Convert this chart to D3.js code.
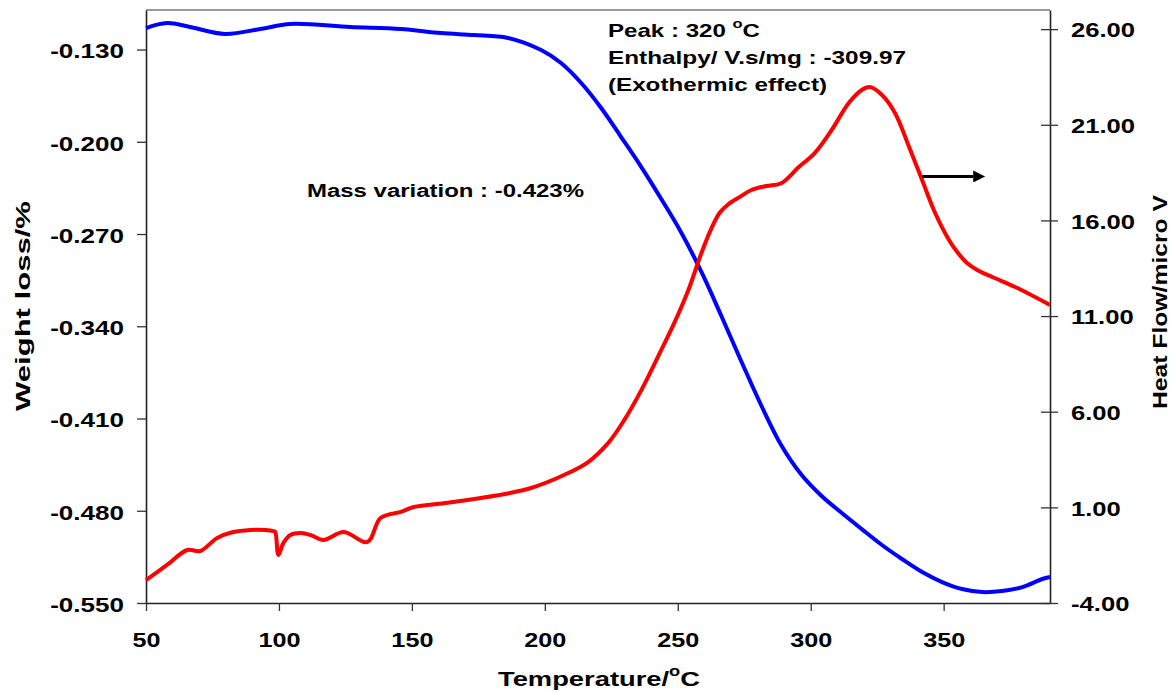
<!DOCTYPE html>
<html>
<head>
<meta charset="utf-8">
<script src="https://cdn.jsdelivr.net/npm/d3@7"></script>
<style>
body{margin:0;background:#fff;}
svg text{font-family:"Liberation Sans",Arial,sans-serif;font-weight:bold;fill:#000;}
</style>
</head>
<body>
<svg id="chart" width="1175" height="692"></svg>
<script>
// TG curve (left axis)
var tempW = [50,57.9,66.6,79.8,93,104.3,126.9,145.8,160.9,173.3,186.1,198.6,206.1,213.7,221.2,228.7,236.3,243.8,251.4,258.9,266.4,274,281.5,289.1,296.6,304.1,311.7,319.2,326.8,334.3,341.9,349.4,356.9,364.5,372,379.6,387.1,390];
var weight = [-0.1137,-0.1099,-0.1129,-0.1182,-0.1144,-0.1106,-0.1129,-0.1144,-0.1175,-0.1190,-0.1212,-0.1304,-0.1402,-0.1554,-0.1744,-0.1964,-0.2192,-0.2434,-0.2692,-0.2988,-0.3322,-0.3671,-0.4005,-0.4309,-0.4529,-0.4688,-0.4817,-0.4939,-0.5060,-0.5166,-0.5265,-0.5341,-0.5394,-0.5417,-0.5409,-0.5379,-0.5318,-0.5303];

// DTA curve (right axis)
var tempH = [50,58,65.5,70.4,76.8,82.8,89.2,94.9,97.9,98.6,99.8,101.7,104.3,108.1,112,116.7,124.3,133.3,138.2,145.8,150.7,163.5,175.9,185,194.8,207.2,216.3,223.8,229.9,236.3,243.8,248.7,254,258.9,262.7,265.7,268.7,273.2,277.7,283.4,289.1,295.5,301.5,307.9,314.3,319.2,322.2,326.8,331.7,337,341.9,346.8,352,355.4,358.8,362.6,368.3,376.9,390];
var heat = [-2.80,-2.00,-1.23,-1.28,-0.60,-0.29,-0.18,-0.18,-0.24,-0.29,-1.49,-0.86,-0.45,-0.34,-0.45,-0.71,-0.29,-0.81,0.44,0.76,1.02,1.24,1.49,1.70,2.01,2.69,3.37,4.36,5.57,7.13,9.23,10.64,12.36,14.30,15.60,16.39,16.81,17.22,17.59,17.80,17.96,18.79,19.52,20.73,22.14,22.82,22.97,22.56,21.62,19.84,18.11,16.39,14.98,14.30,13.77,13.41,13.04,12.52,11.58];

// ticks
var xTicks = [50,100,150,200,250,300,350];
var leftTicks = [-0.55,-0.48,-0.41,-0.34,-0.27,-0.20,-0.13];
var rightTicks = [-4,1,6,11,16,21,26];

// arrow pointing to the right axis
var arrowT = [342,366];
var arrowH = 18.3;

var margin = {left:146, top:10, right:125, bottom:89};
var W = 1175 - margin.left - margin.right,
    H = 692 - margin.top - margin.bottom;

var svg = d3.select('#chart');
var g = svg.append('g').attr('transform','translate('+margin.left+','+margin.top+')');

var x = d3.scaleLinear().domain([50,390]).range([0,W]);
var yL = d3.scaleLinear().domain([-0.55,-0.10]).range([H,0]);
var yR = d3.scaleLinear().domain([-4,27]).range([H,0]);

// stretch text horizontally like the original picture
function stretch(sel,k){
	sel.each(function(){
		var w = this.getComputedTextLength();
		d3.select(this).attr('textLength',w*k).attr('lengthAdjust','spacingAndGlyphs');
	});
}

// top frame line
g.append('line')
.attr('x1',0).attr('x2',W).attr('y1',0).attr('y2',0)
.attr('stroke','#999').attr('stroke-width',2);

// bottom axis
var ax = g.append('g').attr('transform','translate(0,'+H+')')
.call(d3.axisBottom(x).tickValues(xTicks).tickSize(8).tickSizeOuter(0).tickFormat(function(d){return d;}));
ax.selectAll('text').attr('dy',null).attr('y',44).style('font-size','21px');
stretch(ax.selectAll('text'),1.2);

// left axis
var al = g.append('g')
.call(d3.axisLeft(yL).tickValues(leftTicks).tickSize(9).tickSizeOuter(0).tickFormat(function(d){return d.toFixed(3);}));
al.selectAll('text').attr('x',-22).attr('dy','0.4em').style('font-size','21px');
stretch(al.selectAll('text'),1.24);

// right axis
var ar = g.append('g').attr('transform','translate('+W+',0)')
.call(d3.axisRight(yR).tickValues(rightTicks).tickSize(8).tickSizeOuter(0).tickFormat(function(d){return d.toFixed(2);}));
ar.selectAll('.tick line').attr('x1',-9);
ar.selectAll('text').attr('x',21).attr('dy','0.37em').style('font-size','21px');
stretch(ar.selectAll('text'),1.22);

svg.selectAll('.domain').attr('stroke','#222').attr('stroke-width',1.6);
svg.selectAll('.tick line').attr('stroke','#333').attr('stroke-width',1.3);

// curves
var lineW = d3.line().x(function(d){return x(d[0]);}).y(function(d){return yL(d[1]);}).curve(d3.curveCatmullRom.alpha(0.5));
var lineH = d3.line().x(function(d){return x(d[0]);}).y(function(d){return yR(d[1]);}).curve(d3.curveCatmullRom.alpha(0.5));

g.append('path')
.datum(d3.zip(tempW,weight))
.attr('d',lineW)
.attr('fill','none').attr('stroke','#0000ff').attr('stroke-width',4).attr('stroke-linejoin','round');

g.append('path')
.datum(d3.zip(tempH,heat))
.attr('d',lineH)
.attr('fill','none').attr('stroke','#ff0000').attr('stroke-width',4).attr('stroke-linejoin','round');

// arrow
svg.append('defs').append('marker')
.attr('id','head').attr('viewBox','0 0 10 10').attr('refX',0).attr('refY',5)
.attr('markerWidth',4.5).attr('markerHeight',4).attr('orient','auto')
.append('path').attr('d','M0,0L10,5L0,10Z').attr('fill','#000');

g.append('line')
.attr('x1',x(arrowT[0])).attr('x2',x(arrowT[1])-13)
.attr('y1',yR(arrowH)).attr('y2',yR(arrowH))
.attr('stroke','#000').attr('stroke-width',3)
.attr('marker-end','url(#head)');

// annotations
function note(px,py,size){
	return svg.append('text').attr('x',px).attr('y',py).style('font-size',size+'px');
}
note(307,197,18).text('Mass variation : -0.423%').attr('textLength',277).attr('lengthAdjust','spacingAndGlyphs');

var p = note(608,37,19);
p.append('tspan').text('Peak : 320 ');
p.append('tspan').text('o').attr('dy',-9).style('font-size','13px');
p.append('tspan').text('C').attr('dy',9);
p.attr('textLength',152).attr('lengthAdjust','spacingAndGlyphs');

note(608,64,19).text('Enthalpy/ V.s/mg : -309.97').attr('textLength',298).attr('lengthAdjust','spacingAndGlyphs');
note(608,91,19).text('(Exothermic effect)').attr('textLength',219).attr('lengthAdjust','spacingAndGlyphs');

// axis titles
var tx = svg.append('text').attr('x',498).attr('y',686).style('font-size','21px');
tx.append('tspan').text('Temperature/');
tx.append('tspan').text('o').attr('dy',-10).style('font-size','14px');
tx.append('tspan').text('C').attr('dy',10);
tx.attr('textLength',202).attr('lengthAdjust','spacingAndGlyphs');

svg.append('text')
.attr('transform','translate(30,306) rotate(-90)')
.attr('text-anchor','middle')
.style('font-size','21px')
.attr('textLength',210).attr('lengthAdjust','spacingAndGlyphs')
.text('Weight loss/%');

svg.append('text')
.attr('transform','translate(1167,302) rotate(-90)')
.attr('text-anchor','middle')
.style('font-size','21px')
.attr('textLength',214).attr('lengthAdjust','spacingAndGlyphs')
.text('Heat Flow/micro V');
</script>
</body>
</html>
